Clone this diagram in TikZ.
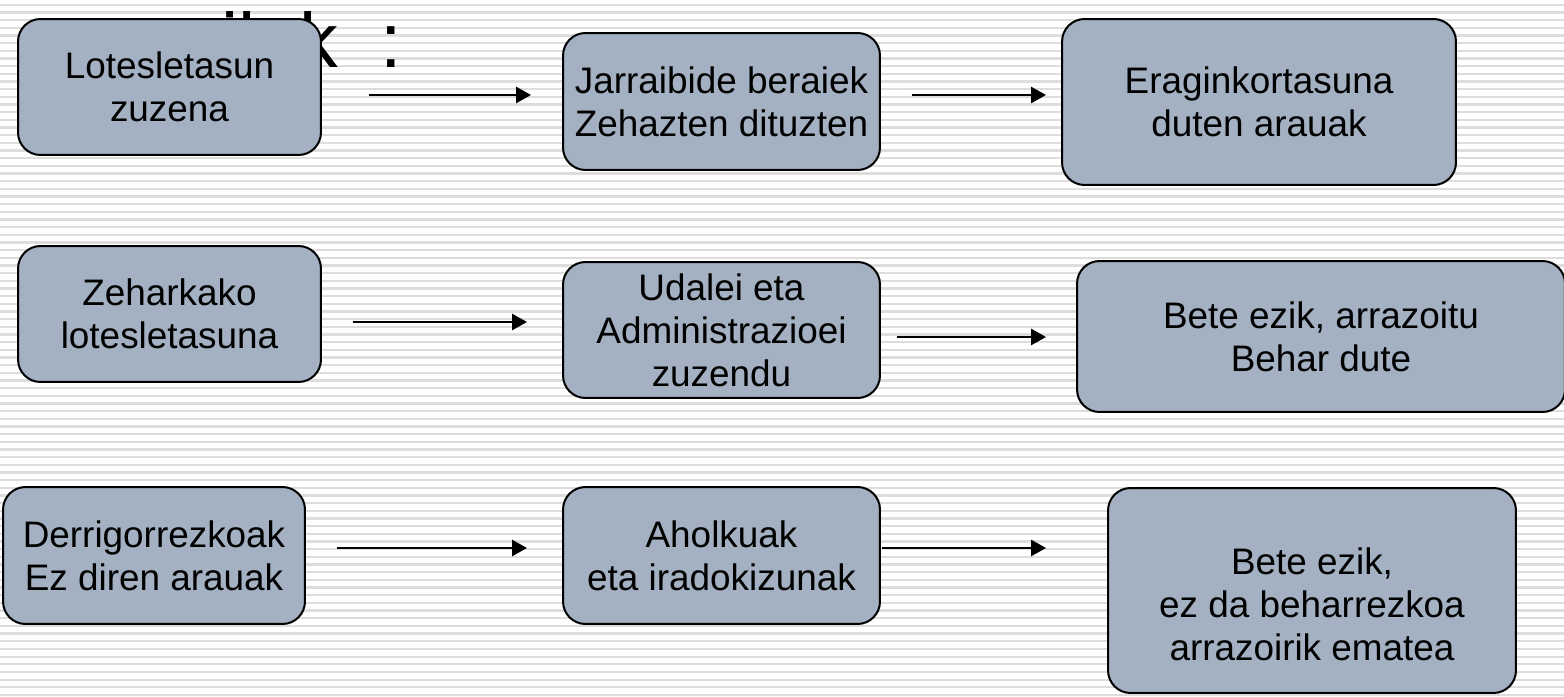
\documentclass[tikz,border=0pt]{standalone}
\usepackage{fontspec}
\setmainfont{Liberation Sans}
\usetikzlibrary{arrows.meta}
\definecolor{kutxa}{RGB}{163,177,194}
\definecolor{marra}{RGB}{221,221,221}

\begin{document}
\begin{tikzpicture}[x=0.02cm, y=-0.02cm,
	box/.style={draw, line width=0.04cm, rounded corners=0.45cm, fill=kutxa, align=center, inner sep=0pt, font=\fontsize{21}{24.4}\selectfont},
	link/.style={line width=0.055cm, -{Triangle[length=0.3cm,width=0.32cm]}}]

\useasboundingbox (0,0) rectangle (1564,696);

% atzeko marrak
\foreach \i in {0,...,90} {
	\draw [marra, line width=0.046cm] (0,4.7+\i*7.67) -- (1564,4.7+\i*7.67);
}

\node [anchor=base west, inner sep=0pt, font=\fontsize{44}{50}\selectfont] (titulua) at (114,68) {mailak~ :};

% lehen lerroa
\node [box, minimum width=6.06cm, minimum height=2.72cm] (zuzena) at (169.5,87) {Lotesletasun\\zuzena};
\node [box, minimum width=6.34cm, minimum height=2.74cm] (jarraibide) at (721.5,101.5) {Jarraibide beraiek\\Zehazten dituzten};
\node [box, minimum width=7.88cm, minimum height=3.32cm] (eragin) at (1259,102) {Eraginkortasuna\\duten arauak};

% bigarren lerroa
\node [box, minimum width=6.06cm, minimum height=2.72cm] (zeharka) at (169.5,314) {Zeharkako\\lotesletasuna};
\node [box, minimum width=6.34cm, minimum height=2.72cm] (udalei) at (721.5,330) {Udalei eta\\Administrazioei\\zuzendu};
\node [box, minimum width=9.76cm, minimum height=3.02cm] (arrazoitu) at (1321,336.5) {Bete ezik, arrazoitu\\Behar dute};

% hirugarren lerroa
\node [box, minimum width=6.04cm, minimum height=2.74cm] (derrigor) at (154,555.5) {Derrigorrezkoak\\Ez diren arauak};
\node [box, minimum width=6.34cm, minimum height=2.74cm] (aholku) at (721.5,555.5) {Aholkuak\\eta iradokizunak};
\node [box, minimum width=8.16cm, minimum height=4.1cm] (ezbehar) at (1312,590.5) {\rule{0pt}{1.1cm}Bete ezik,\\ez da beharrezkoa\\arrazoirik ematea};

\coordinate (y1) at (0,95);
\coordinate (y2) at (0,322);
\coordinate (y3) at (0,337);
\coordinate (y4) at (0,548);

\draw [link, shorten <=0.94cm, shorten >=0.62cm] (zuzena.east |- y1) -- (jarraibide.west |- y1);
\draw [link, shorten <=0.62cm, shorten >=0.3cm] (jarraibide.east |- y1) -- (eragin.west |- y1);
\draw [link, shorten <=0.62cm, shorten >=0.7cm] (zeharka.east |- y2) -- (udalei.west |- y2);
\draw [link, shorten <=0.32cm, shorten >=0.6cm] (udalei.east |- y3) -- (arrazoitu.west |- y3);
\draw [link, shorten <=0.62cm, shorten >=0.7cm] (derrigor.east |- y4) -- (aholku.west |- y4);
\draw [link, shorten <=0.02cm, shorten >=1.22cm] (aholku.east |- y4) -- (ezbehar.west |- y4);

\end{tikzpicture}
\end{document}
